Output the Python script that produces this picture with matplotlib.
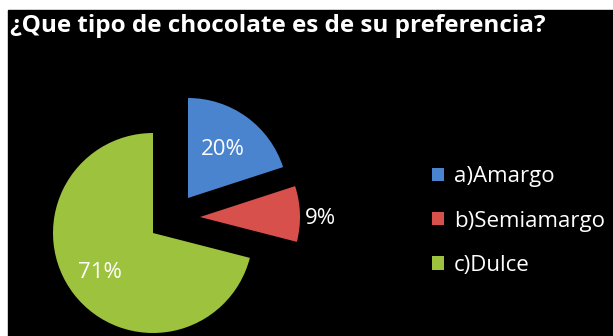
import matplotlib.pyplot as plt
from matplotlib.patches import Rectangle, Patch

# datos
categorias = ['a)Amargo', 'b)Semiamargo', 'c)Dulce']
porcentajes = [20, 9, 71]
colores = ['#4A84CF', '#D8504C', '#9DC23E']
titulo = '¿Que tipo de chocolate es de su preferencia?'

W, H = 613, 336
fig = plt.figure(figsize=(W / 100, H / 100), dpi=100, facecolor='white')

# fondo negro (borde blanco arriba e izquierda)
fig.patches.append(Rectangle((8 / W, 0), 1 - 8 / W, (H - 10) / H,
                             transform=fig.transFigure, color='black', zorder=-10))

# pie centrado en (153, 233) px, radio 100 px
cx, cy = 153, H - 233
ax = fig.add_axes([(cx - 150) / W, (cy - 150) / H, 300 / W, 300 / H])
ax.set_facecolor('none')
wedges, texts, autotexts = ax.pie(porcentajes, colors=colores, startangle=90,
                                  counterclock=False,
                                  autopct=lambda p: f'{p:.0f}%', pctdistance=0.6,
                                  wedgeprops=dict(linewidth=0),
                                  textprops=dict(color='white', fontsize=16, family='Open Sans'))
# porciones separadas (como en el original, no del todo radial)
desplaz = [(0.35, 0.35), (0.47, 0.16), (0, 0)]
for w, t, (dx, dy) in zip(wedges, autotexts, desplaz):
    w.set_center((dx, dy))
    x, y = t.get_position()
    t.set_position((x + dx, y + dy))
autotexts[1].set_position((1.67, 0.15))
autotexts[2].set_position((-0.53, -0.4))
ax.set_xlim(-1.5, 1.5)
ax.set_ylim(-1.5, 1.5)
ax.axis('off')

fig.text(10 / W, 1 - 32 / H, titulo, color='white', fontsize=17.5,
         fontweight='bold', family='Open Sans', va='baseline', ha='left')

handles = [Patch(facecolor=c, edgecolor='none') for c in colores]
fig.legend(handles, categorias, loc='center left', bbox_to_anchor=(412 / W, 1 - 221 / H),
           frameon=False, labelcolor='white', prop=dict(family='Open Sans', size=16),
           handlelength=0.55, handleheight=0.55, handletextpad=0.45, labelspacing=1.05)

fig.savefig('out.png', dpi=100, facecolor='white')
